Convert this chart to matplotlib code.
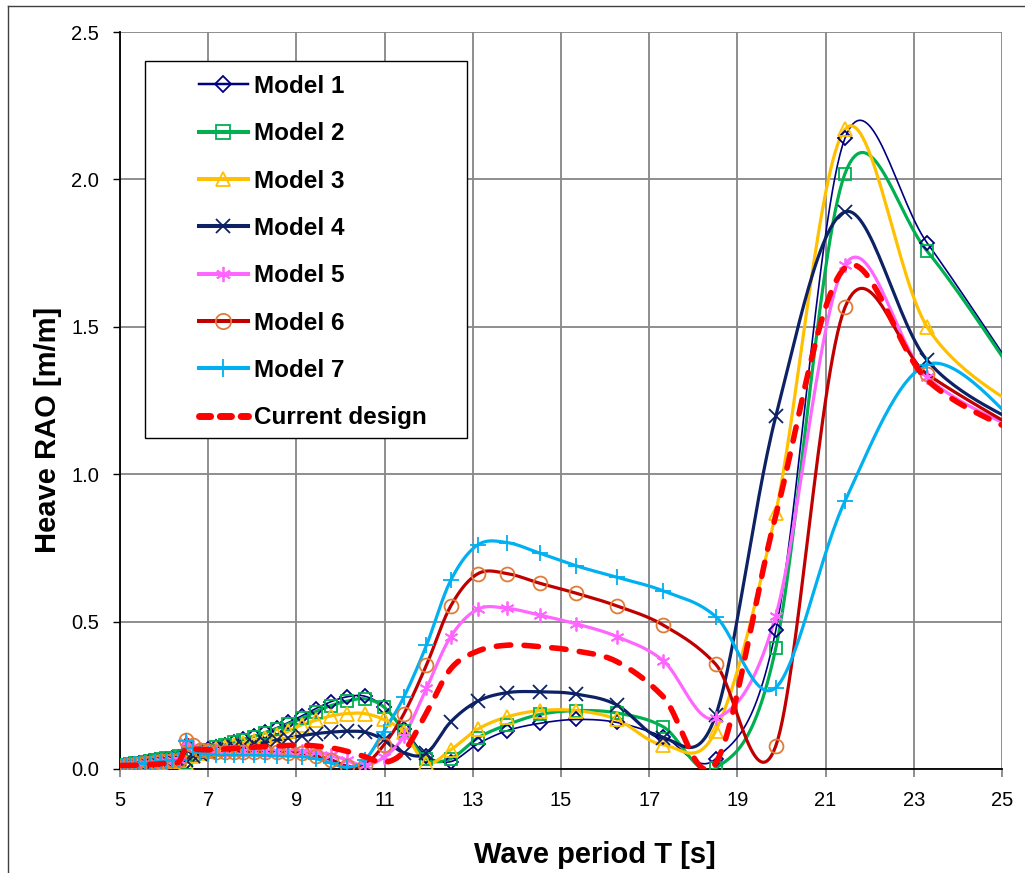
"""
Heave RAO comparison chart: seven hull models against the current design.
"""

import matplotlib

matplotlib.use("Agg")
import matplotlib.pyplot as plt
import numpy as np
from matplotlib.lines import Line2D
from matplotlib.patches import Rectangle

# ---------------------------------------------------------------------------
# Data (wave period T [s] -> heave RAO [m/m])
# ---------------------------------------------------------------------------
wave_period = [
    5.04, 5.13, 5.23, 5.34, 5.44, 5.56, 5.67, 5.79, 5.92, 6.05, 6.19, 6.34,
    6.49, 6.65, 6.82, 7.00, 7.18, 7.38, 7.58, 7.80, 8.04, 8.28, 8.55, 8.82,
    9.12, 9.44, 9.78, 10.15, 10.55, 10.98, 11.44, 11.95,
    12.50, 13.11, 13.78, 14.52, 15.35, 16.27, 17.32, 18.51,
    19.87, 21.44, 23.30, 25.50,
]

model_1 = [
    0.010, 0.012, 0.015, 0.018, 0.020, 0.023, 0.026, 0.029, 0.032, 0.035, 0.038, 0.042,
    0.025, 0.050, 0.060, 0.068, 0.075, 0.083, 0.092, 0.102, 0.113, 0.125, 0.140, 0.158,
    0.180, 0.205, 0.228, 0.245, 0.247, 0.212, 0.135, 0.045,
    0.025, 0.085, 0.130, 0.155, 0.168, 0.158, 0.110, 0.035,
    0.470, 2.140, 1.785, 1.300,
]
model_2 = [
    0.012, 0.014, 0.017, 0.020, 0.022, 0.025, 0.028, 0.030, 0.033, 0.036, 0.039, 0.043,
    0.020, 0.048, 0.058, 0.066, 0.073, 0.081, 0.090, 0.100, 0.110, 0.122, 0.136, 0.153,
    0.172, 0.195, 0.215, 0.230, 0.238, 0.211, 0.130, 0.035,
    0.035, 0.105, 0.150, 0.185, 0.198, 0.190, 0.143, 0.003,
    0.410, 2.020, 1.757, 1.290,
]
model_3 = [
    0.008, 0.010, 0.012, 0.014, 0.016, 0.018, 0.020, 0.022, 0.024, 0.026, 0.028, 0.030,
    0.020, 0.045, 0.055, 0.062, 0.068, 0.074, 0.081, 0.088, 0.096, 0.105, 0.115, 0.128,
    0.150, 0.165, 0.180, 0.188, 0.188, 0.168, 0.125, 0.020,
    0.065, 0.135, 0.177, 0.198, 0.198, 0.168, 0.082, 0.130,
    0.870, 2.170, 1.500, 1.210,
]
model_4 = [
    0.010, 0.011, 0.013, 0.015, 0.017, 0.019, 0.021, 0.023, 0.025, 0.027, 0.030, 0.033,
    0.030, 0.045, 0.052, 0.058, 0.063, 0.068, 0.073, 0.078, 0.084, 0.090, 0.097, 0.105,
    0.113, 0.120, 0.125, 0.128, 0.125, 0.100, 0.055, 0.053,
    0.160, 0.230, 0.259, 0.262, 0.254, 0.217, 0.104, 0.183,
    1.196, 1.890, 1.387, 1.160,
]
model_5 = [
    0.010, 0.012, 0.014, 0.016, 0.018, 0.020, 0.022, 0.024, 0.026, 0.028, 0.030, 0.032,
    0.090, 0.075, 0.068, 0.065, 0.063, 0.062, 0.062, 0.062, 0.062, 0.062, 0.062, 0.062,
    0.062, 0.058, 0.048, 0.030, 0.012, 0.040, 0.112, 0.274,
    0.449, 0.542, 0.545, 0.522, 0.492, 0.449, 0.367, 0.172,
    0.520, 1.710, 1.330, 1.140,
]
model_6 = [
    0.010, 0.012, 0.014, 0.016, 0.018, 0.020, 0.022, 0.024, 0.026, 0.028, 0.030, 0.032,
    0.100, 0.080, 0.065, 0.060, 0.058, 0.057, 0.057, 0.057, 0.057, 0.057, 0.056, 0.055,
    0.053, 0.045, 0.032, 0.010, 0.015, 0.081, 0.188, 0.353,
    0.553, 0.662, 0.663, 0.630, 0.596, 0.553, 0.488, 0.355,
    0.078, 1.566, 1.340, 1.140,
]
model_7 = [
    0.010, 0.012, 0.014, 0.016, 0.018, 0.020, 0.022, 0.024, 0.026, 0.028, 0.030, 0.032,
    0.095, 0.070, 0.055, 0.050, 0.048, 0.047, 0.047, 0.047, 0.047, 0.046, 0.045, 0.044,
    0.042, 0.035, 0.020, 0.006, 0.030, 0.127, 0.245, 0.420,
    0.640, 0.760, 0.768, 0.732, 0.689, 0.650, 0.604, 0.517,
    0.276, 0.909, 1.372, 1.150,
]
current_design = [
    0.012, 0.012, 0.012, 0.013, 0.013, 0.014, 0.015, 0.016, 0.018, 0.020, 0.022, 0.025,
    0.070, 0.068, 0.066, 0.065, 0.066, 0.068, 0.070, 0.072, 0.074, 0.076, 0.078, 0.080,
    0.081, 0.078, 0.072, 0.060, 0.042, 0.022, 0.060, 0.190,
    0.340, 0.400, 0.420, 0.415, 0.400, 0.364, 0.245, 0.020,
    0.860, 1.700, 1.320, 1.130,
]

series_labels = [
    "Model 1", "Model 2", "Model 3", "Model 4",
    "Model 5", "Model 6", "Model 7", "Current design",
]
x_ticks = [5, 7, 9, 11, 13, 15, 17, 19, 21, 23, 25]
y_ticks = [0.0, 0.5, 1.0, 1.5, 2.0, 2.5]

# ---------------------------------------------------------------------------
# Styling (Excel-like)
# ---------------------------------------------------------------------------
GRID_GREY = "#868686"
ASTERISK = (6, 2, 0)

SERIES_STYLES = [
    dict(color="#000080", lw=1.2, marker="D", ms=7.5, mec="#000080"),
    dict(color="#00B050", lw=2.3, marker="s", ms=8.5, mec="#00B050"),
    dict(color="#FFC000", lw=2.3, marker="^", ms=9.5, mec="#FFC000"),
    dict(color="#0D2265", lw=2.3, marker="x", ms=9.5, mec="#0D2265"),
    dict(color="#FF66FF", lw=2.3, marker=ASTERISK, ms=10, mec="#FF66FF"),
    dict(color="#C00000", lw=2.3, marker="o", ms=10, mec="#E07B39"),
    dict(color="#00B0F0", lw=2.3, marker="+", ms=12, mec="#00B0F0"),
]


def smooth_curve(x, y, samples=30):
    """Excel-style smoothed line: Catmull-Rom through the points as Beziers."""
    x = np.asarray(x, dtype=float)
    y = np.asarray(y, dtype=float)
    px = np.concatenate([[x[0]], x, [x[-1]]])
    py = np.concatenate([[y[0]], y, [y[-1]]])
    t = np.linspace(0.0, 1.0, samples, endpoint=False)
    b0 = (1 - t) ** 3
    b1 = 3 * t * (1 - t) ** 2
    b2 = 3 * t ** 2 * (1 - t)
    b3 = t ** 3
    xs, ys = [], []
    for i in range(len(x) - 1):
        x0, x1, x2, x3 = px[i:i + 4]
        y0, y1, y2, y3 = py[i:i + 4]
        cx1, cy1 = x1 + (x2 - x0) / 6, y1 + (y2 - y0) / 6
        cx2, cy2 = x2 - (x3 - x1) / 6, y2 - (y3 - y1) / 6
        xs.append(b0 * x1 + b1 * cx1 + b2 * cx2 + b3 * x2)
        ys.append(b0 * y1 + b1 * cy1 + b2 * cy2 + b3 * y2)
    xs.append([x[-1]])
    ys.append([y[-1]])
    return np.concatenate(xs), np.concatenate(ys)


plt.rcParams["font.family"] = ["Liberation Sans", "DejaVu Sans"]

fig = plt.figure(figsize=(10.25, 8.73), dpi=100)
ax = fig.add_axes([120 / 1025, 104 / 873, 882 / 1025, 737 / 873])

models = [model_1, model_2, model_3, model_4, model_5, model_6, model_7]
handles = []
for values, label, style in zip(models, series_labels, SERIES_STYLES):
    sx, sy = smooth_curve(wave_period, values)
    ax.plot(sx, sy, color=style["color"], lw=style["lw"], solid_capstyle="round", zorder=3)
    ax.plot(
        wave_period, values, linestyle="none", marker=style["marker"],
        ms=style["ms"], mfc="none", mec=style["mec"], mew=1.3, zorder=4,
    )
    handles.append(Line2D(
        [], [], color=style["color"], lw=style["lw"] + 0.6, marker=style["marker"],
        ms=style["ms"] + 1, mfc="none", mec=style["mec"], mew=1.3,
    ))

sx, sy = smooth_curve(wave_period, current_design)
ax.plot(
    sx, sy, color="#FF0000", lw=4.0, dashes=(2.6, 2.4),
    dash_capstyle="round", zorder=5,
)
handles.append(Line2D(
    [], [], color="#FF0000", lw=5, dashes=(1.6, 1.4), dash_capstyle="round",
))

# Axes, ticks and grid
ax.set_xlim(5, 25)
ax.set_ylim(0, 2.5)
ax.set_xticks(x_ticks)
ax.set_yticks(y_ticks)
ax.set_yticklabels([f"{v:.1f}" for v in y_ticks])
ax.grid(True, color=GRID_GREY, lw=1.3, zorder=0)
ax.set_axisbelow(True)
ax.spines["top"].set_visible(False)
ax.spines["right"].set_visible(False)
ax.spines["left"].set_linewidth(1.3)
ax.spines["bottom"].set_linewidth(1.3)
ax.tick_params(axis="x", direction="out", length=6, width=1.3, color=GRID_GREY,
               labelsize=14.5, pad=10)
ax.tick_params(axis="y", direction="out", length=5, width=1.0, color="black",
               labelsize=14.5, pad=10)

ax.set_xlabel("Wave period T [s]", fontsize=21, fontweight="bold")
ax.xaxis.set_label_coords((595 - 120) / 882, (769 - 841) / 737)
ax.set_ylabel("Heave RAO [m/m]", fontsize=21, fontweight="bold")
ax.yaxis.set_label_coords((62 - 120) / 882, (769 - 430) / 737)

# Legend with its own frame, like the Excel legend box
fig.add_artist(Rectangle(
    (145 / 1025, 1 - 438 / 873), (467 - 145) / 1025, (438 - 61) / 873,
    transform=fig.transFigure, fill=True, facecolor="white",
    edgecolor="black", lw=1.0, zorder=6,
))
leg = fig.legend(
    handles, series_labels, loc="upper left",
    bbox_to_anchor=(199 / 1025, 1 - 75 / 873), bbox_transform=fig.transFigure,
    frameon=False, borderpad=0, borderaxespad=0, numpoints=1,
    handlelength=2.0, handletextpad=0.25, labelspacing=1.0,
    prop={"size": 17.5, "weight": "bold"},
)
leg.set_zorder(7)

# Outer chart-area border (only top and left edges are inside the picture)
fig.add_artist(Line2D([8 / 1025, 8 / 1025], [0, 1 - 6 / 873], transform=fig.transFigure,
                      color="#404040", lw=1.0))
fig.add_artist(Line2D([8 / 1025, 1], [1 - 6 / 873, 1 - 6 / 873], transform=fig.transFigure,
                      color="#404040", lw=1.0))

fig.savefig("out.png", dpi=100, facecolor="white")
